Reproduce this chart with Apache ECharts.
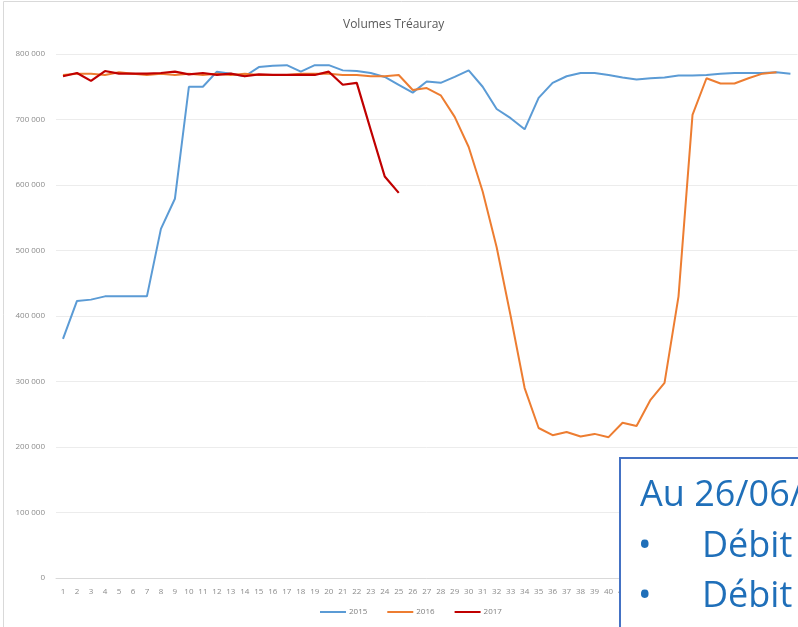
<!DOCTYPE html>
<html>
<head>
<meta charset="utf-8">
<script src="https://cdn.jsdelivr.net/npm/echarts@6/dist/echarts.min.js"></script>
<style>
html,body{margin:0;padding:0;background:#fff;}
#c{width:798px;height:627px;}
</style>
</head>
<body>
<div id="c"></div>
<script>
const weeks = Array.from({length: 53}, (_, i) => String(i + 1));
const seriesNames = ['2015', '2016', '2017'];
const v2015 = [365000, 423000, 425000, 430000, 430000, 430000, 430000, 533000, 579000, 750000,
  750000, 773000, 770000, 766000, 780000, 782000, 783000, 773000, 783000, 783000,
  775000, 774000, 771000, 765000, 753000, 741000, 758000, 756000, 765000, 775000,
  750000, 716000, 702000, 685000, 733000, 756000, 766000, 771000, 771000, 768000,
  764000, 761000, 763000, 764000, 767000, 767000, 768000, 770000, 771000, 771000,
  771000, 772000, 770000];
const v2016 = [768000, 770000, 770000, 768000, 772000, 770000, 768000, 770000, 768000, 770000,
  768000, 770000, 768000, 770000, 768000, 768000, 768000, 770000, 770000, 770000,
  768000, 768000, 766000, 766000, 768000, 745000, 748000, 737000, 704000, 658000,
  590000, 505000, 400000, 290000, 229000, 218000, 223000, 216000, 220000, 215000,
  237000, 232000, 272000, 298000, 430000, 707000, 763000, 755000, 755000, 763000,
  770000, 772000];
const v2017 = [766000, 771000, 759000, 774000, 770000, 770000, 770000, 771000, 773000, 769000,
  771000, 768000, 770000, 766000, 769000, 768000, 768000, 768000, 768000, 773000,
  753000, 756000, 684000, 613000, 588000];
const titleText = 'Volumes Tréauray';
const boxLines = ['Au 26/06/', 'Débit', 'Débit'];

const chart = echarts.init(document.getElementById('c'), null, {renderer: 'canvas'});
const fmt = v => v === 0 ? '0' : String(v).replace(/\B(?=(\d{3})+(?!\d))/g, ' ');
const boxFont = {fontFamily: 'Open Sans', fontSize: 36, fill: '#1f6fb9', verticalAlign: 'top'};
chart.setOption({
  animation: false,
  backgroundColor: '#fff',
  title: {
    text: titleText, left: 338, top: 14,
    textStyle: {fontFamily: 'Open Sans', fontSize: 12, fontWeight: 'normal', color: '#595959'}
  },
  legend: {
    data: seriesNames, left: 315, top: 603,
    icon: 'rect', itemWidth: 26, itemHeight: 2, itemGap: 20,
    textStyle: {fontFamily: 'Open Sans', fontSize: 8, color: '#7f7f7f', padding: [0,0,0,-2]}
  },
  grid: {left: 56, right: 0, top: 54, bottom: 49, containLabel: false},
  xAxis: {
    type: 'category', data: weeks, boundaryGap: true,
    axisLine: {lineStyle: {color: '#d9d9d9', width: 1}},
    axisTick: {show: false},
    axisLabel: {interval: 0, fontFamily: 'Open Sans', fontSize: 8, color: '#8c8c8c', margin: 10}
  },
  yAxis: {
    type: 'value', min: 0, max: 800000, interval: 100000,
    axisLine: {show: false}, axisTick: {show: false},
    splitLine: {lineStyle: {color: '#ececec', width: 1}},
    axisLabel: {formatter: fmt, fontFamily: 'Open Sans', fontSize: 8, color: '#8c8c8c', margin: 11}
  },
  series: [
    {name: '2015', type: 'line', data: v2015, showSymbol: false, symbol: 'none',
     lineStyle: {color: '#5b9bd5', width: 2}, itemStyle: {color: '#5b9bd5'}},
    {name: '2016', type: 'line', data: v2016, showSymbol: false, symbol: 'none',
     lineStyle: {color: '#ed7d31', width: 2}, itemStyle: {color: '#ed7d31'}},
    {name: '2017', type: 'line', data: v2017, showSymbol: false, symbol: 'none',
     lineStyle: {color: '#c00000', width: 2.2}, itemStyle: {color: '#c00000'}}
  ],
  graphic: [
    {type: 'rect', z: 0, silent: true, shape: {x: 3.5, y: 1.5, width: 900, height: 900},
     style: {fill: 'none', stroke: '#d9d9d9', lineWidth: 1}},
    {type: 'rect', z: 100, shape: {x: 620, y: 458, width: 300, height: 300},
     style: {fill: '#ffffff', stroke: '#4472c4', lineWidth: 2}},
    {type: 'text', z: 101, x: 640, y: 478, style: Object.assign({text: boxLines[0]}, boxFont)},
    {type: 'text', z: 101, x: 638, y: 529, style: Object.assign({text: '•'}, boxFont)},
    {type: 'text', z: 101, x: 702, y: 529, style: Object.assign({text: boxLines[1]}, boxFont)},
    {type: 'text', z: 101, x: 638, y: 579, style: Object.assign({text: '•'}, boxFont)},
    {type: 'text', z: 101, x: 702, y: 579, style: Object.assign({text: boxLines[2]}, boxFont)}
  ]
});
</script>
</body>
</html>
